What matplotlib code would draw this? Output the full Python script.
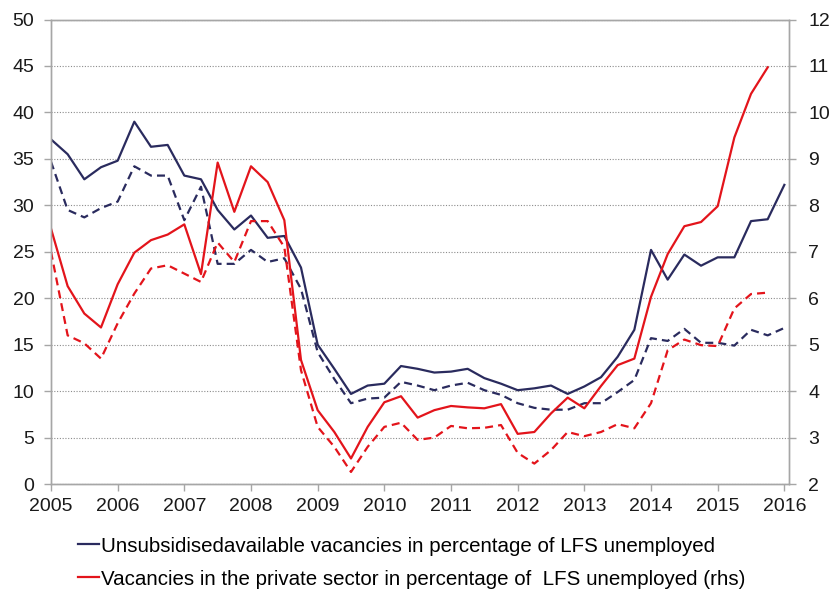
import matplotlib
matplotlib.use("Agg")
import matplotlib.pyplot as plt
import numpy as np

plt.rcParams['font.family'] = ['Liberation Sans', 'DejaVu Sans']

# quarterly observations, 2005Q1 onwards
unsub = [37.1, 35.5, 32.8, 34.1, 34.8, 39.0, 36.3, 36.5,
         33.2, 32.8, 29.5, 27.4, 28.9, 26.5, 26.7, 23.3,
         15.0, 12.4, 9.7, 10.6, 10.8, 12.7, 12.4, 12.0,
         12.1, 12.4, 11.4, 10.8, 10.1, 10.3, 10.6, 9.7,
         10.5, 11.5, 13.7, 16.6, 25.2, 22.0, 24.7, 23.5,
         24.4, 24.4, 28.3, 28.5, 32.2]
unsub_dash = [34.7, 29.5, 28.7, 29.7, 30.4, 34.2, 33.2, 33.2,
              28.4, 32.0, 23.7, 23.7, 25.2, 23.9, 24.3, 21.0,
              14.2, 11.3, 8.7, 9.2, 9.3, 11.0, 10.6, 10.1,
              10.6, 10.9, 10.1, 9.6, 8.7, 8.2, 8.0, 8.0,
              8.7, 8.7, 9.9, 11.2, 15.7, 15.4, 16.7, 15.2,
              15.2, 14.9, 16.6, 16.0, 16.8]
private = [7.50, 6.26, 5.67, 5.37, 6.30, 6.98, 7.25, 7.37,
           7.59, 6.52, 8.92, 7.86, 8.84, 8.50, 7.68, 4.67,
           3.59, 3.12, 2.55, 3.23, 3.76, 3.89, 3.43, 3.59,
           3.68, 3.65, 3.63, 3.72, 3.08, 3.12, 3.52, 3.86,
           3.63, 4.11, 4.56, 4.70, 6.03, 6.95, 7.55, 7.64,
           7.98, 9.46, 10.40, 10.97]
private_dash = [7.00, 5.20, 5.03, 4.70, 5.46, 6.10, 6.64, 6.71,
                6.53, 6.35, 7.20, 6.78, 7.66, 7.66, 7.10, 4.45,
                3.23, 2.80, 2.26, 2.80, 3.23, 3.32, 2.95, 3.00,
                3.25, 3.20, 3.21, 3.27, 2.67, 2.44, 2.73, 3.12,
                3.03, 3.12, 3.29, 3.20, 3.74, 4.88, 5.11, 4.99,
                4.97, 5.78, 6.09, 6.12]
years = list(range(2005, 2017))

navy = "#2a2b5e"
red = "#e3141b"
grey = "#a6a6a6"

t_unsub = 2005 + 0.25 * np.arange(len(unsub))
t_priv = 2005 + 0.25 * np.arange(len(private))

fig = plt.figure(figsize=(8.33, 5.91), dpi=100)
ax = fig.add_axes([0.0612, 0.181, 0.886, 0.786])
ax2 = ax.twinx()

# solid = headline series, dashed = companion series on same axis
l1, = ax.plot(t_unsub, unsub, color=navy, lw=1.6)
ax.plot(t_unsub, unsub_dash, color=navy, lw=1.6, dashes=(3.6, 2.3))
l2, = ax2.plot(t_priv, private, color=red, lw=1.6)
ax2.plot(t_priv, private_dash, color=red, lw=1.6, dashes=(3.6, 2.3))

ax.set_xlim(2005, 2016.07)
ax.set_ylim(0, 50)
ax2.set_ylim(2, 12)
ax.set_yticks(range(0, 51, 5))
ax2.set_yticks(range(2, 13))
ax.set_xticks(years)
ax.set_xticklabels([str(y) for y in years])

ax.yaxis.grid(True, color="#8c8c8c", linestyle=(0, (1, 1.5)), lw=0.8)
ax.set_axisbelow(True)

for a in (ax, ax2):
    for s in a.spines.values():
        s.set_color(grey)
        s.set_linewidth(1.0)
    a.tick_params(colors=grey, labelcolor="#1a1a1a", labelsize=14, length=5, width=1)
ax.tick_params(axis="y", pad=7)
ax2.tick_params(axis="y", pad=9)
ax.tick_params(axis="x", pad=5)

fig.legend([l1, l2],
           ["Unsubsidisedavailable vacancies in percentage of LFS unemployed",
            "Vacancies in the private sector in percentage of  LFS unemployed (rhs)"],
           loc="upper left", bbox_to_anchor=(0.094, 0.092),
           frameon=False, fontsize=14.8, borderpad=0,
           handlelength=1.0, handletextpad=0.1, labelspacing=0.68,
           borderaxespad=0)

fig.savefig("out.png", dpi=100)
